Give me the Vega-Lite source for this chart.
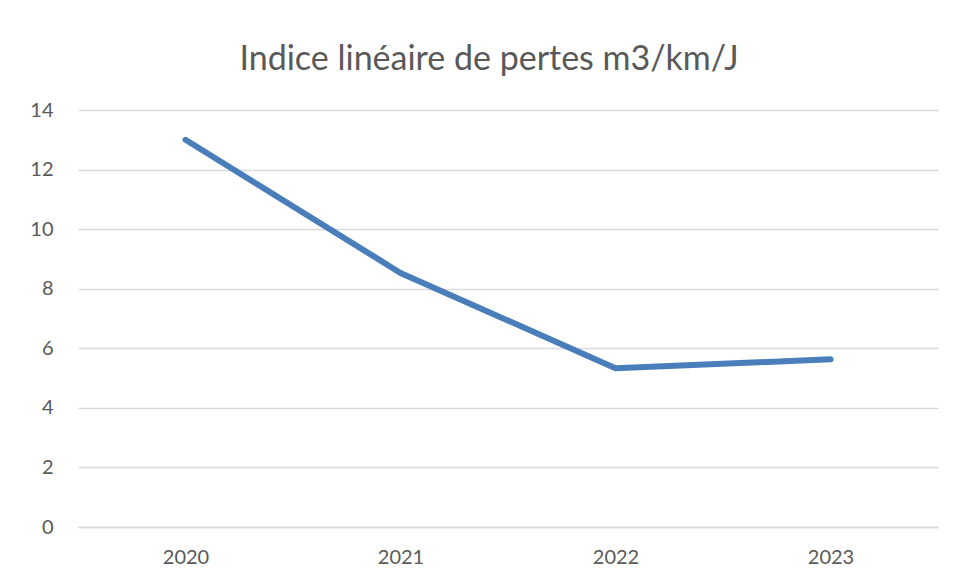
{
  "$schema": "https://vega.github.io/schema/vega-lite/v6.json",
  "width": 860,
  "height": 417,
  "autosize": {"type": "none"},
  "padding": {"left": 78, "top": 110, "right": 20, "bottom": 55},
  "background": "white",
  "config": {
    "view": {"stroke": null},
    "font": "Lato"
  },
  "title": {
    "text": "Indice linéaire de pertes m3/km/J",
    "fontSize": 34,
    "fontWeight": "normal",
    "color": "#595959",
    "font": "Lato",
    "anchor": "middle",
    "frame": "group",
    "dx": -19,
    "offset": 23
  },
  "data": {
    "values": [
      {"year": "2020", "value": 13.0},
      {"year": "2021", "value": 8.53},
      {"year": "2022", "value": 5.33},
      {"year": "2023", "value": 5.63}
    ]
  },
  "mark": {"type": "line", "color": "#4a7ebb", "strokeWidth": 6, "strokeCap": "round", "strokeJoin": "round"},
  "encoding": {
    "x": {
      "field": "year",
      "type": "ordinal",
      "scale": {"type": "point", "padding": 0.5},
      "axis": {
        "title": null,
        "labelAngle": 0,
        "labelFontSize": 20,
        "labelColor": "#595959",
        "labelPadding": 20,
        "ticks": false,
        "domain": true,
        "domainColor": "#d9d9d9",
        "domainWidth": 1.5,
        "grid": false
      }
    },
    "y": {
      "field": "value",
      "type": "quantitative",
      "scale": {"domain": [0, 14], "nice": false},
      "axis": {
        "title": null,
        "values": [0, 2, 4, 6, 8, 10, 12, 14],
        "labelFontSize": 20,
        "labelColor": "#595959",
        "labelPadding": 25,
        "ticks": false,
        "domain": false,
        "grid": true,
        "gridColor": "#d9d9d9",
        "gridWidth": 1.5
      }
    }
  }
}
